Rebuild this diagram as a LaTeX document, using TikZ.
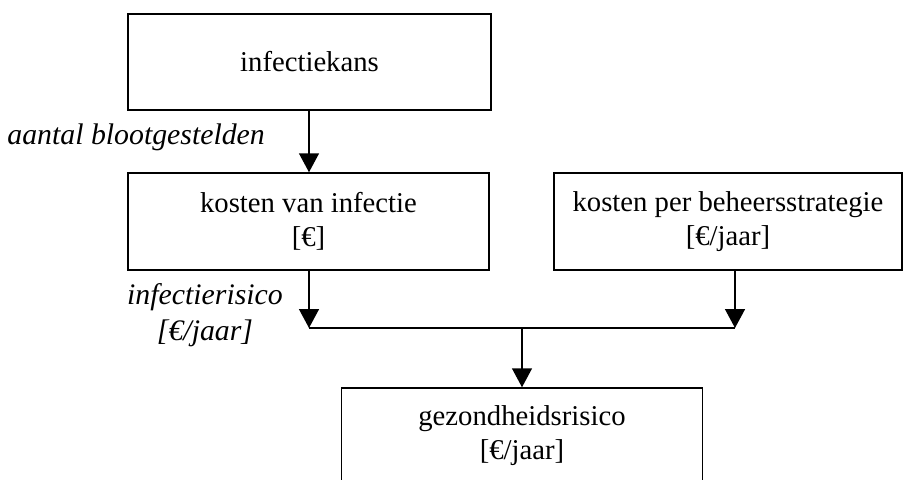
\documentclass[tikz,border=0pt]{standalone}
\usepackage{fontspec}
\setmainfont{Liberation Serif}
\usetikzlibrary{arrows.meta,calc}
\begin{document}
\begin{tikzpicture}[x=1pt,y=-1pt,
  box/.style={draw,line width=1.5pt,inner sep=0pt,align=center,font=\fontsize{28.7}{34}\selectfont},
  lab/.style={inner sep=0pt,align=center,font=\fontsize{29.8}{36}\selectfont\itshape},
  conn/.style={line width=1.5pt},
  arr/.style={conn,-{Triangle[width=20pt,length=19pt]}}]
\useasboundingbox (0,0) rectangle (904,479);
\begin{scope}
\clip (0,0) rectangle (904,479);
\node[box,minimum width=363pt,minimum height=96pt] (b1) at (309.5,62) {infectiekans};
\node[box,minimum width=361pt,minimum height=97pt] (b2) at (308.5,221.5) {kosten van infectie\\{[€]}};
\node[box,minimum width=348pt,minimum height=97pt] (b3) at (728,221.5) {kosten per beheersstrategie\\{[€/jaar]}};
\node[box,minimum width=361pt,minimum height=96pt] (b4) at (522,436) {gezondheidsrisico\\{[€/jaar]}};
\end{scope}
\coordinate (j1) at (309,328);
\coordinate (j2) at (735,328);
\coordinate (jm) at (522,328);
\draw[arr] (b1.south -| j1) -- (b2.north -| j1);
\draw[arr] (b2.south -| j1) -- (j1);
\draw[arr] (b3.south -| j2) -- (j2);
\draw[conn] (j1) -- (j2);
\draw[arr] (jm) -- (b4.north);
\node[lab,anchor=east] (l1) at (265,137) {aantal blootgestelden};
\node[lab] (l2) at (205,315) {infectierisico\\{[€/jaar]}};
\end{tikzpicture}
\end{document}
